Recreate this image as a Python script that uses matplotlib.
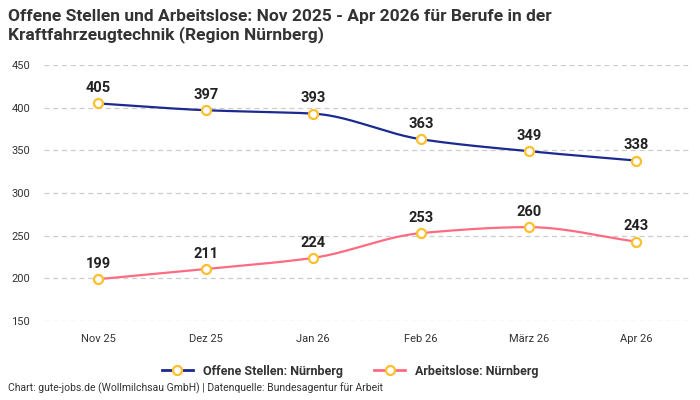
import numpy as np
import matplotlib
matplotlib.use("Agg")
import matplotlib.pyplot as plt
from matplotlib.lines import Line2D

categories = ["Nov 25", "Dez 25", "Jan 26", "Feb 26", "März 26", "Apr 26"]
offene = [405, 397, 393, 363, 349, 338]
arbeitslose = [199, 211, 224, 253, 260, 243]
yticks = [150, 200, 250, 300, 350, 400, 450]

plt.rcParams['font.family'] = ['Roboto', 'DejaVu Sans']

def monotone(x, y, n=40):
    x = np.asarray(x, float); y = np.asarray(y, float)
    h = np.diff(x); d = np.diff(y) / h
    m = np.zeros_like(y)
    m[0] = d[0]; m[-1] = d[-1]
    for i in range(1, len(y) - 1):
        if d[i-1] * d[i] <= 0:
            m[i] = 0
        else:
            w1 = 2*h[i] + h[i-1]; w2 = h[i] + 2*h[i-1]
            m[i] = (w1 + w2) / (w1/d[i-1] + w2/d[i])
    xs, ys = [], []
    for i in range(len(h)):
        t = np.linspace(0, 1, n)
        h00 = 2*t**3 - 3*t**2 + 1; h10 = t**3 - 2*t**2 + t
        h01 = -2*t**3 + 3*t**2; h11 = t**3 - t**2
        xs.append(x[i] + t*h[i])
        ys.append(h00*y[i] + h10*h[i]*m[i] + h01*y[i+1] + h11*h[i]*m[i+1])
    return np.concatenate(xs), np.concatenate(ys)

fig = plt.figure(figsize=(7, 4), dpi=100)
ax = fig.add_axes([0.063, 0.1975, 0.923, 0.64])
x = np.arange(len(categories))

blue = "#1b2a8f"
pink = "#ff6b81"
yellow = "#fbc02d"
ms = 6.5

for vals, col in [(offene, blue), (arbeitslose, pink)]:
    sx, sy = monotone(x, vals)
    ax.plot(sx, sy, color=col, lw=1.6, zorder=3, solid_capstyle='round')
    ax.plot(x, vals, 'o', ms=ms, mfc='white', mec=yellow, mew=1.6, zorder=4)
    for xi, v in zip(x, vals):
        ax.annotate(str(v), (xi, v), xytext=(0, 6), textcoords='offset points',
                    ha='center', va='bottom', fontsize=10.5, fontweight='bold', color='#222222', zorder=5)

ax.set_xlim(-0.5, len(categories) - 0.5)
ax.set_ylim(150, 450)
ax.set_yticks(yticks)
ax.set_xticks(x)
ax.set_xticklabels(categories)
ax.grid(axis='y', color='#cccccc', linestyle=(0, (4, 3)), lw=0.9)
ax.set_axisbelow(True)
for s in ax.spines.values():
    s.set_visible(False)
ax.tick_params(axis='both', length=0, labelsize=8, colors='#333333')
ax.tick_params(axis='x', pad=9)
ax.tick_params(axis='y', pad=10)

fig.text(0.011, 0.978, "Offene Stellen und Arbeitslose: Nov 2025 - Apr 2026 für Berufe in der\nKraftfahrzeugtechnik (Region Nürnberg)",
         ha='left', va='top', fontsize=12.5, fontweight='bold', color='#333333', linespacing=1.2)

handles = [Line2D([], [], color=blue, lw=2, marker='o', ms=ms, mfc='white', mec=yellow, mew=1.6),
           Line2D([], [], color=pink, lw=2, marker='o', ms=ms, mfc='white', mec=yellow, mew=1.6)]
leg = fig.legend(handles, ["Offene Stellen: Nürnberg", "Arbeitslose: Nürnberg"], loc='center',
                 bbox_to_anchor=(0.5, 0.072), ncol=2, frameon=False, handlelength=2.5,
                 columnspacing=2.5, prop={'weight': 'bold', 'size': 9})
for t in leg.get_texts():
    t.set_color('#333333')

fig.text(0.011, 0.015, "Chart: gute-jobs.de (Wollmilchsau GmbH) | Datenquelle: Bundesagentur für Arbeit",
         ha='left', va='bottom', fontsize=7.5, color='#333333')

fig.savefig("out.png", dpi=100)
